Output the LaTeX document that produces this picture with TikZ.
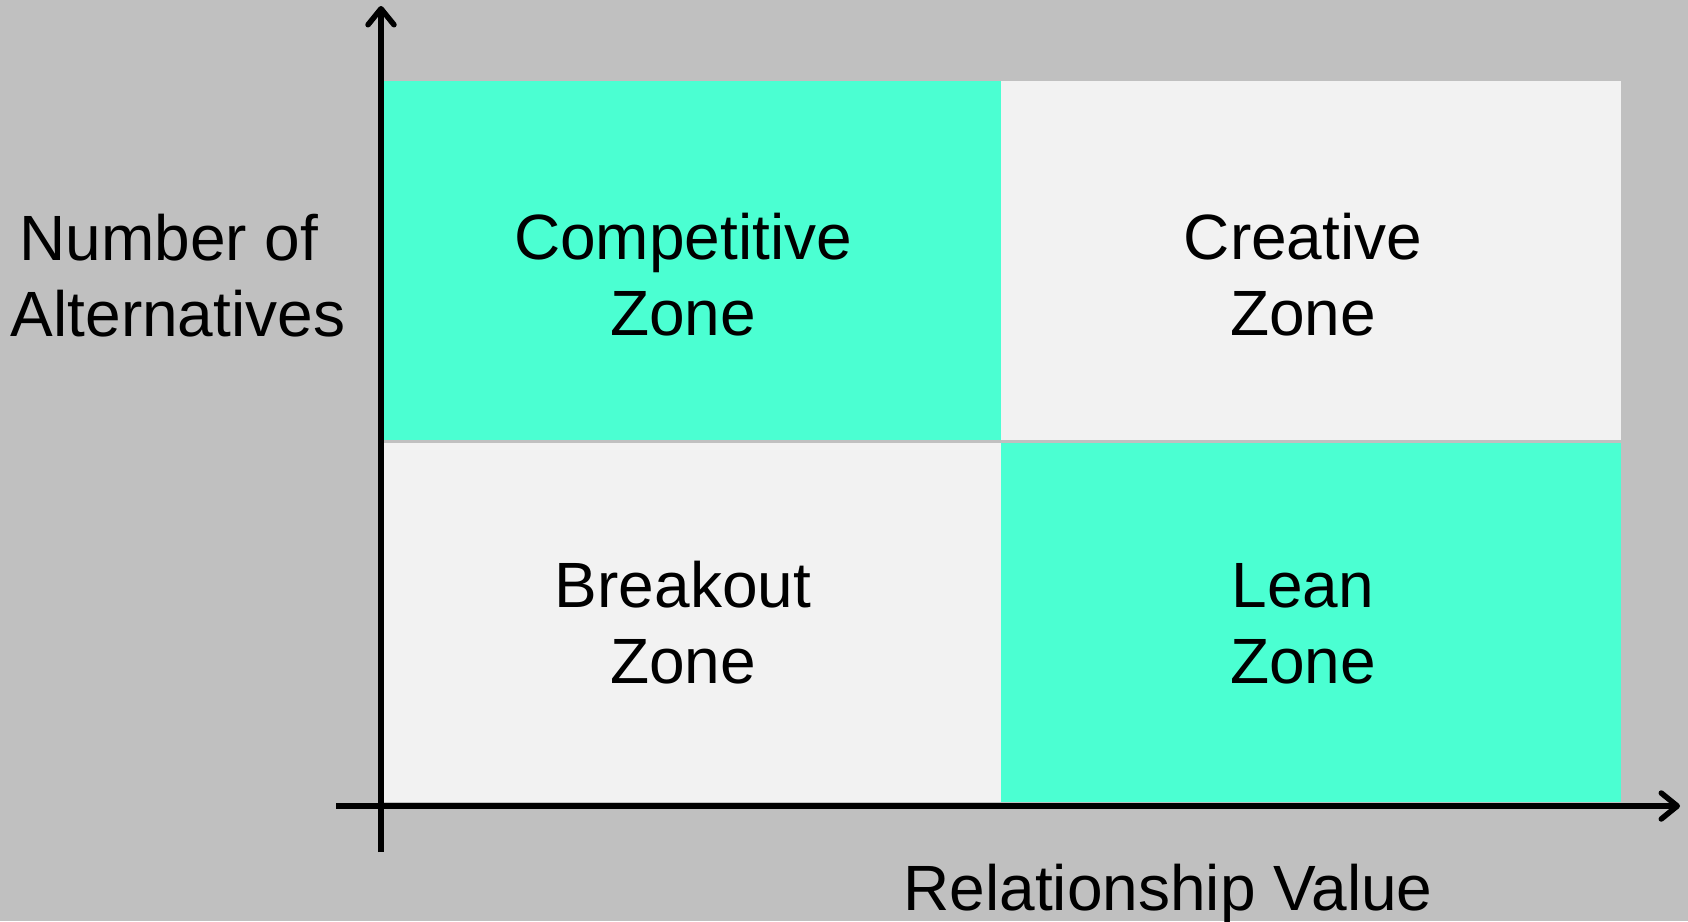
\documentclass[tikz,border=0pt]{standalone}
\usepackage{fontspec}
\setmainfont{Liberation Sans}
\usetikzlibrary{arrows.meta}
\definecolor{bg}{RGB}{192,192,192}
\definecolor{zgreen}{RGB}{75,255,210}
\definecolor{zgray}{RGB}{242,242,242}
\tikzset{
  zlabel/.style={align=center, font=\fontsize{64}{76}\selectfont, inner sep=0pt, anchor=base},
  axis/.style={line width=5.5pt, -{Straight Barb[length=16pt, width=26pt, line cap=round, line join=round]}},
}
\begin{document}
\begin{tikzpicture}[x=1pt,y=-1pt]
\fill[bg] (0,0) rectangle (1688,921);
\useasboundingbox (0,0) rectangle (1688,921);
% quadrants
\fill[zgreen] (384,81) rectangle (1001,440);
\fill[zgray] (1001,81) rectangle (1621,440);
\fill[zgray] (384,443) rectangle (1001,802);
\fill[zgreen] (1001,443) rectangle (1621,802);
% labels (base anchor = baseline of last line)
\node[zlabel] (comp) at (683,335) {Competitive\\Zone};
\node[zlabel] (crea) at (1303,335) {Creative\\Zone};
\node[zlabel] (brk) at (683,683) {Breakout\\Zone};
\node[zlabel] (lean) at (1303,683) {Lean\\Zone};
\node[zlabel] (ylab) at (178,336) {Number of\kern18pt\relax\\Alternatives};
\node[zlabel] (xlab) at (1168,910) {Relationship Value};
% axes
\coordinate (yb) at (381,852);
\coordinate (yt) at (381,6);
\coordinate (xl) at (336,806);
\coordinate (xr) at (1680,806);
\draw[axis] (yb) -- (yt);
\draw[axis] (xl) -- (xr);
\end{tikzpicture}
\end{document}
